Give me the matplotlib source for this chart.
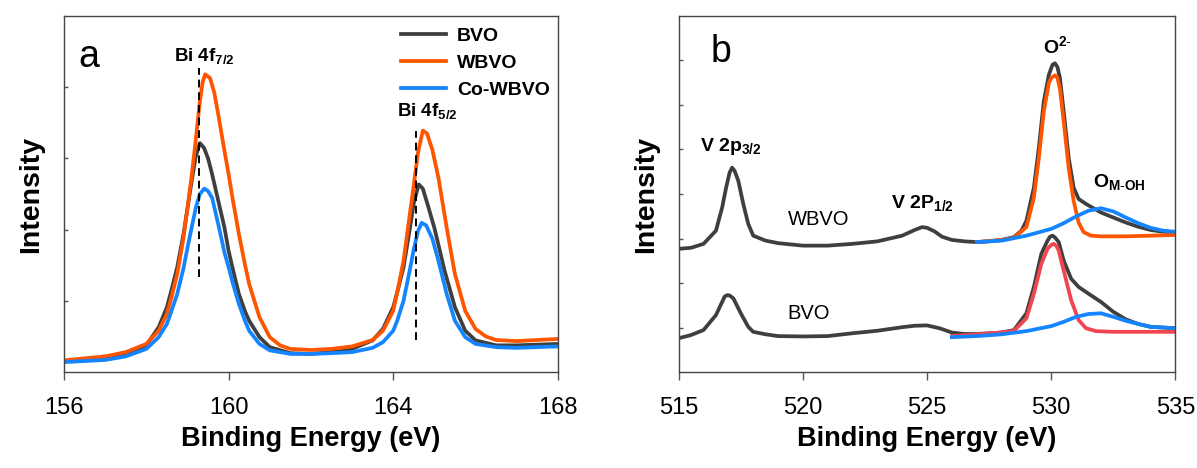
# XPS spectra: (a) Bi 4f, (b) V 2p / O 1s
import matplotlib.pyplot as plt

plt.rcParams['font.family'] = ['Liberation Sans', 'DejaVu Sans']
plt.rcParams['mathtext.fontset'] = 'custom'
plt.rcParams['mathtext.rm'] = 'Liberation Sans'
plt.rcParams['mathtext.bf'] = 'Liberation Sans:bold'

# ---- panel a data (binding energy eV, intensity a.u.) ----
bvo_a_x = [156, 157, 157.5, 158, 158.3, 158.5, 158.6, 158.75, 158.9, 159, 159.1, 159.2, 159.3,
           159.4, 159.5, 159.6, 159.75, 159.9, 160, 160.1, 160.25, 160.4, 160.5, 160.75, 161,
           161.5, 162, 162.5, 163, 163.5, 163.75, 164, 164.1, 164.25, 164.4, 164.5, 164.62,
           164.72, 164.85, 165, 165.25, 165.5, 165.75, 166, 166.5, 167, 168]
bvo_a_y = [3.0, 4.0, 5.1, 7.5, 12.6, 18.2, 22.5, 29.4, 38.5, 46.0, 53.5, 60.5, 64.3,
           63.0, 60.0, 55.5, 48.0, 40.5, 34.0, 29.0, 21.9, 17.0, 14.4, 9.8, 7.0,
           5.3, 5.1, 5.6, 6.5, 8.9, 12.1, 18.2, 22.5, 29.4, 40.0, 47.5, 52.7,
           51.5, 46.5, 40.5, 28.4, 18.2, 11.6, 8.9, 7.5, 7.5, 7.9]
wbvo_a_x = [156, 157, 157.5, 158, 158.3, 158.5, 158.6, 158.75, 158.9, 159, 159.1, 159.2, 159.3,
            159.37, 159.43, 159.55, 159.65, 159.75, 159.9, 160, 160.1, 160.25, 160.4, 160.5,
            160.75, 161, 161.25, 161.5, 162, 162.5, 163, 163.5, 163.75, 164, 164.1, 164.25,
            164.4, 164.5, 164.6, 164.72, 164.82, 164.95, 165.1, 165.3, 165.5, 165.75, 166,
            166.25, 166.5, 167, 168]
wbvo_a_y = [3.3, 4.4, 5.6, 7.9, 11.6, 16.3, 20.5, 27.5, 37.5, 46.0, 55.0, 65.0, 76.0,
            81.5, 83.6, 82.5, 78.5, 72.2, 62.0, 55.5, 48.5, 38.7, 30.0, 24.7,
            15.4, 9.8, 7.5, 6.5, 6.2, 6.5, 7.2, 9.0, 11.6, 17.2, 22.5, 31.2,
            44.0, 52.5, 61.5, 67.8, 67.0, 62.5, 54.5, 40.5, 27.5, 17.2, 12.1,
            10.0, 9.0, 8.7, 9.3]
cowbvo_a_x = [156, 157, 157.5, 158, 158.3, 158.5, 158.6, 158.75, 158.9, 159, 159.1, 159.2, 159.3,
              159.41, 159.5, 159.6, 159.75, 159.9, 160, 160.1, 160.25, 160.4, 160.5, 160.75, 161,
              161.5, 162, 162.5, 163, 163.5, 163.75, 164, 164.1, 164.25, 164.4, 164.5, 164.6,
              164.69, 164.8, 164.95, 165.1, 165.3, 165.5, 165.75, 166, 166.5, 167, 168]
cowbvo_a_y = [2.8, 3.4, 4.4, 6.5, 9.8, 13.5, 16.8, 21.9, 29.0, 34.9, 40.5, 46.0, 50.0,
              51.5, 50.8, 48.9, 41.4, 33.5, 29.4, 25.0, 19.1, 14.3, 11.6, 7.9, 6.1,
              5.1, 5.1, 5.3, 5.6, 6.8, 8.4, 11.6, 14.5, 20.0, 28.5, 34.5, 39.5,
              41.9, 41.2, 37.5, 31.2, 21.9, 14.4, 9.8, 7.9, 7.0, 6.8, 7.2]

# ---- panel b data ----
wbvo_b_x = [515, 515.5, 516, 516.5, 516.75, 516.9, 517.05, 517.15, 517.25, 517.4, 517.6, 517.8,
            518, 518.5, 519, 520, 521, 522, 523, 524, 524.5, 524.8, 525, 525.3, 525.6, 526,
            526.5, 527, 527.5, 528, 528.5, 528.8, 529, 529.3, 529.5, 529.7, 529.9, 530.05,
            530.15, 530.25, 530.35, 530.5, 530.7, 530.9, 531.1, 531.4, 531.7, 532, 532.5, 533,
            533.5, 534, 534.5, 535]
wbvo_b_y = [34.6, 34.9, 36.0, 39.7, 46.2, 51.5, 56.0, 57.4, 56.5, 53.7, 47.2, 41.6,
            38.3, 36.9, 36.2, 35.5, 35.5, 36.0, 36.7, 38.3, 39.9, 40.7, 40.5, 39.5, 38.0, 37.1,
            36.7, 36.5, 36.7, 37.1, 37.9, 39.7, 42.5, 51.8, 63.0, 76.0, 83.4, 86.3,
            86.7, 85.6, 82.5, 73.2, 60.2, 51.8, 48.6, 47.2, 46.0, 44.8, 43.4, 42.0,
            40.8, 39.9, 39.4, 39.3]
wbvo_o2_x = [527, 528, 528.5, 529, 529.3, 529.5, 529.7, 529.9, 530.0, 530.15, 530.25, 530.35,
             530.5, 530.7, 530.9, 531.1, 531.3, 531.6, 532, 533, 535]
wbvo_o2_y = [36.5, 37.1, 37.7, 40.7, 49.0, 60.2, 73.2, 81.1, 82.6, 83.3, 82.6, 79.5,
             70.4, 57.4, 48.1, 42.0, 39.3, 38.3, 38.1, 38.1, 38.5]
wbvo_oh_x = [527, 528, 529, 530, 530.5, 531, 531.5, 532, 532.5, 533, 533.5, 534, 534.5, 535]
wbvo_oh_y = [36.5, 36.9, 38.3, 40.2, 41.8, 43.7, 45.3, 46.0, 45.1, 43.4, 41.8, 40.5, 39.7, 39.4]

bvo_b_x = [515, 515.5, 516, 516.5, 516.75, 516.85, 516.95, 517.05, 517.2, 517.5, 517.8, 518,
           518.5, 519, 520, 521, 522, 523, 524, 524.5, 525, 525.5, 526, 526.5, 527, 528, 528.5,
           529, 529.3, 529.6, 529.85, 529.95, 530.05, 530.15, 530.3, 530.5, 530.8, 531.1, 531.5,
           532, 532.5, 533, 533.5, 534, 534.5, 535]
bvo_b_y = [9.5, 10.4, 11.8, 16.0, 19.7, 21.2, 21.6, 21.5, 20.7, 16.5, 12.7, 11.3,
           10.6, 10.1, 10.0, 10.1, 10.9, 11.6, 12.6, 13.0, 13.1, 12.3, 11.1, 10.7, 10.7, 11.1, 11.8,
           16.5, 23.9, 33.2, 36.9, 38.0, 38.3, 37.8, 36.5, 31.3, 26.2, 23.9, 22.0,
           19.7, 16.9, 14.8, 13.5, 12.7, 12.5, 12.3]
bvo_o2_x = [526, 527, 528, 528.5, 529, 529.3, 529.6, 529.85, 530.0, 530.1, 530.2, 530.3, 530.5,
            530.8, 531.1, 531.4, 531.8, 532.5, 535]
bvo_o2_y = [10.1, 10.6, 11.1, 11.6, 15.1, 22.0, 30.4, 34.6, 35.7, 36.0, 35.5, 34.1, 28.5,
            20.2, 14.6, 12.3, 11.5, 11.3, 11.3]
bvo_oh_x = [526, 527, 528, 529, 530, 530.5, 531, 531.5, 532, 532.5, 533, 533.5, 534, 534.5, 535]
bvo_oh_y = [9.8, 10.1, 10.6, 11.5, 12.9, 14.1, 15.5, 16.3, 16.5, 15.5, 14.4, 13.5, 12.7, 12.5, 12.3]

# 颜色
c_gray = '#3f3f3f'
c_orange = '#ff5500'
c_blue = '#1485ff'
c_red = '#f2454f'

fig = plt.figure(figsize=(11.97, 4.68), dpi=100)
ax1 = fig.add_axes([0.0535, 0.205, 0.4125, 0.761])
ax2 = fig.add_axes([0.567, 0.205, 0.415, 0.761])

lw = 2.7

# ---------- panel a ----------
ax1.plot(bvo_a_x, bvo_a_y, color=c_gray, lw=lw, label='BVO', solid_joinstyle='round')
ax1.plot(wbvo_a_x, wbvo_a_y, color=c_orange, lw=lw, label='WBVO', solid_joinstyle='round')
ax1.plot(cowbvo_a_x, cowbvo_a_y, color=c_blue, lw=lw, label='Co-WBVO', solid_joinstyle='round')
ax1.plot([159.27, 159.27], [26.6, 85.3], color='black', lw=1.4, ls=(0, (4, 2.5)))
ax1.plot([164.56, 164.56], [8.9, 67.8], color='black', lw=1.4, ls=(0, (4, 2.5)))
ax1.text(159.4, 88.5, r'Bi 4f$_{\mathbf{7/2}}$', ha='center', va='center', fontsize=13.5, fontweight='bold')
ax1.text(164.83, 73.2, r'Bi 4f$_{\mathbf{5/2}}$', ha='center', va='center', fontsize=13.5, fontweight='bold')
ax1.text(156.6, 88.5, 'a', ha='center', va='center', fontsize=27)
leg = ax1.legend(loc='upper left', bbox_to_anchor=(0.648, 1.018), frameon=False,
                 prop={'weight': 'bold', 'size': 14}, handlelength=2.3,
                 labelspacing=0.48, handletextpad=0.55)
ax1.set_xlim(156, 168)
ax1.set_ylim(0, 100)
ax1.set_xticks([156, 160, 164, 168])
ax1.set_yticks([20, 40, 60, 80])

# ---------- panel b ----------
ax2.plot(wbvo_b_x, wbvo_b_y, color=c_gray, lw=lw, solid_joinstyle='round')
ax2.plot(wbvo_o2_x, wbvo_o2_y, color=c_orange, lw=lw, solid_joinstyle='round')
ax2.plot(wbvo_oh_x, wbvo_oh_y, color=c_blue, lw=lw, solid_joinstyle='round')
ax2.plot(bvo_b_x, bvo_b_y, color=c_gray, lw=lw, solid_joinstyle='round')
ax2.plot(bvo_o2_x, bvo_o2_y, color=c_red, lw=lw, solid_joinstyle='round')
ax2.plot(bvo_oh_x, bvo_oh_y, color=c_blue, lw=lw, solid_joinstyle='round')
ax2.text(516.7, 90, 'b', ha='center', va='center', fontsize=27)
ax2.text(530.25, 91.3, r'O$^{\mathbf{2\text{-}}}$', ha='center', va='center', fontsize=14, fontweight='bold')
ax2.text(517.1, 63.4, r'V 2p$_{\mathbf{3/2}}$', ha='center', va='center', fontsize=14, fontweight='bold')
ax2.text(524.8, 47.2, r'V 2P$_{\mathbf{1/2}}$', ha='center', va='center', fontsize=14, fontweight='bold')
ax2.text(532.75, 53.2, r'O$_{\mathbf{M\text{-}OH}}$', ha='center', va='center', fontsize=14, fontweight='bold')
ax2.text(520.65, 42.7, 'WBVO', ha='center', va='center', fontsize=14.5)
ax2.text(520.25, 16.5, 'BVO', ha='center', va='center', fontsize=14.5)
ax2.set_xlim(515, 535)
ax2.set_ylim(0, 100)
ax2.set_xticks([515, 520, 525, 530, 535])
ax2.set_yticks([12.5, 25, 37.5, 50, 62.5, 75, 87.5])

for ax in (ax1, ax2):
    ax.set_xlabel('Binding Energy (eV)', fontsize=19.5, fontweight='bold', labelpad=5)
    ax.set_ylabel('Intensity', fontsize=20.5, fontweight='bold', labelpad=14)
    ax.tick_params(axis='x', direction='out', length=6, width=1, labelsize=17, pad=12, color='#555555')
    ax.tick_params(axis='y', direction='in', length=3, width=1, labelleft=False, color='#555555')
    for s in ax.spines.values():
        s.set_color('#444444')
        s.set_linewidth(1)

plt.savefig('out.png', dpi=100)
